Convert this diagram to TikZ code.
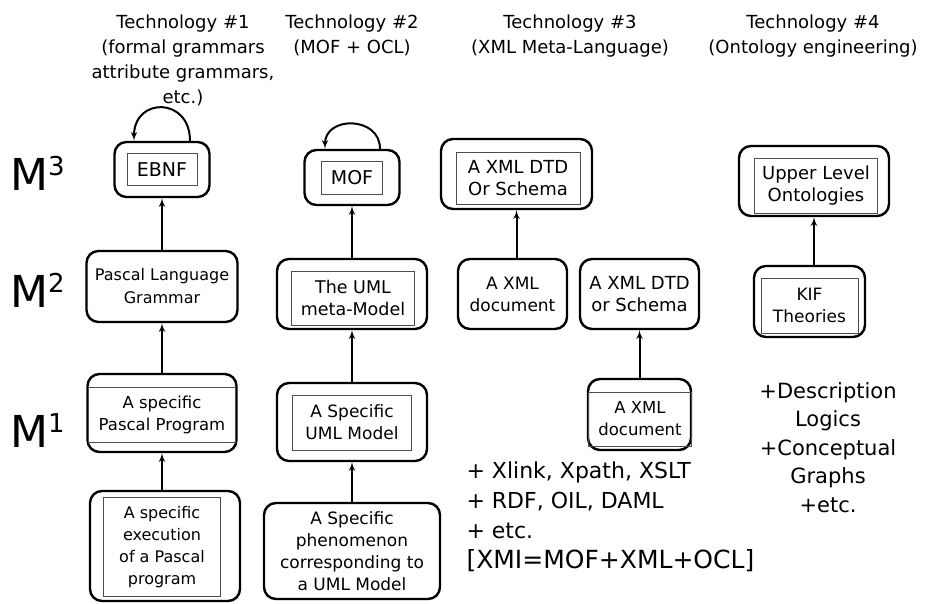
\documentclass[tikz,border=0pt]{standalone}
\usepackage{fontspec}
\setmainfont{DejaVu Sans}
\usetikzlibrary{shapes,arrows,calc,positioning}
\tikzstyle{outerbox} = [rectangle, draw, line width=2.4pt, rounded corners=12pt,
    align=center, inner sep=0pt, font=\fontsize{17}{22}\selectfont]
\tikzstyle{innerbox} = [rectangle, draw=black!70, line width=0.9pt,
    align=center, inner sep=0pt, font=\fontsize{17}{22}\selectfont]
\tikzstyle{line} = [draw, -latex', line width=2pt]
\tikzstyle{heading} = [align=center, anchor=north, font=\fontsize{18}{25}\selectfont]
\tikzstyle{level} = [anchor=base west, inner sep=0pt, font=\fontsize{44}{44}\selectfont]
\newcommand{\lvl}[1]{M\raisebox{15pt}{\fontsize{26}{26}\selectfont #1}}

\begin{document}
\begin{tikzpicture}[x=1pt, y=-1pt]
\useasboundingbox (0,0) rectangle (931,604);

%% Headings
\node [heading] (tech1) at (183,11) {Technology \#1\\(formal grammars\\attribute grammars,\\etc.)};
\node [heading] (tech2) at (352,11) {Technology \#2\\(MOF + OCL)};
\node [heading] (tech3) at (570,11) {Technology \#3\\(XML Meta-Language)};
\node [heading] (tech4) at (813,11) {Technology \#4\\(Ontology engineering)};

%% Levels
\node [level] (m3) at (10,190) {\lvl{3}};
\node [level] (m2) at (10,307) {\lvl{2}};
\node [level] (m1) at (10,447) {\lvl{1}};

%% Technology #1 boxes
\node [outerbox, minimum width=95, minimum height=55] (ebnfbox) at (162,169.5) {};
\node [innerbox, minimum width=70, minimum height=32, font=\fontsize{19}{22}\selectfont] (ebnf) at (ebnfbox) {EBNF};
\node [outerbox, minimum width=151, minimum height=71, font=\fontsize{16}{23}\selectfont] (pascalgrammar) at (162,286.5) {Pascal Language\\Grammar};
\node [outerbox, minimum width=149, minimum height=78] (pascalprogbox) at (162,413) {};
\node [innerbox, minimum width=147, minimum height=55, font=\fontsize{16.5}{22}\selectfont] (pascalprog) at (162,414.5) {A specific\\Pascal Program};
\node [outerbox, minimum width=150, minimum height=110] (executionbox) at (165,546) {};
\node [innerbox, minimum width=117, minimum height=99, font=\fontsize{16}{22}\selectfont] (execution) at (162,547) {A specific\\execution\\of a Pascal\\program};

%% Technology #2 boxes
\node [outerbox, minimum width=95, minimum height=55] (mofbox) at (352,177.5) {};
\node [innerbox, minimum width=61, minimum height=33, font=\fontsize{19}{22}\selectfont] (mof) at (mofbox) {MOF};
\node [outerbox, minimum width=150, minimum height=70] (umlmetabox) at (352,294) {};
\node [innerbox, minimum width=123, minimum height=54, font=\fontsize{17.5}{22}\selectfont] (umlmeta) at (353,298) {The UML\\meta-Model};
\node [outerbox, minimum width=150, minimum height=78] (umlmodelbox) at (352,422) {};
\node [innerbox, minimum width=119, minimum height=55] (umlmodel) at (352,422.5) {A Specific\\UML Model};
\node [outerbox, minimum width=176, minimum height=96] (phenomenon) at (352,551) {A Specific\\phenomenon\\corresponding to\\a UML Model};

%% Technology #3 boxes
\node [outerbox, minimum width=151, minimum height=70] (xmldtdbox) at (516.5,174) {};
\node [innerbox, minimum width=124, minimum height=52, font=\fontsize{18}{22}\selectfont] (xmldtd) at (518,178) {A XML DTD\\Or Schema};
\node [outerbox, minimum width=109, minimum height=70] (xmldoc) at (512.5,294) {A XML\\document};
\node [outerbox, minimum width=119, minimum height=70, font=\fontsize{18}{22}\selectfont] (xmldtdtwo) at (639.5,294) {A XML DTD\\or Schema};
\node [outerbox, minimum width=103, minimum height=71] (xmldoctwobox) at (639.5,414.5) {};
\node [innerbox, minimum width=103, minimum height=54, font=\fontsize{16.5}{22}\selectfont] (xmldoctwo) at (640,419) {A XML\\document};

%% Technology #4 boxes
\node [outerbox, minimum width=150, minimum height=70] (upperbox) at (814,181) {};
\node [innerbox, minimum width=123, minimum height=55, font=\fontsize{18}{22}\selectfont] (upper) at (816,185.5) {Upper Level\\Ontologies};
\node [outerbox, minimum width=111, minimum height=71] (kifbox) at (809.5,301.5) {};
\node [innerbox, minimum width=97, minimum height=55] (kif) at (809.5,305.5) {KIF\\Theories};

%% Extra texts
\node [anchor=north west, align=left, font=\fontsize{22}{30}\selectfont] (xmlextras) at (463,458) {+ Xlink, Xpath, XSLT\\+ RDF, OIL, DAML\\+ etc.\\{\fontsize{25}{31}\selectfont [XMI=MOF+XML+OCL]}};
\node [anchor=north, align=center, font=\fontsize{21}{28.5}\selectfont] (ontoextras) at (828,379) {+Description\\Logics\\+Conceptual\\Graphs\\+etc.};

%% Self loops
\path [line] ($(ebnfbox.north)+(28,0)$) .. controls ($(ebnfbox.north)+(28,-44)$) and ($(ebnfbox.north)+(-28,-44)$) .. ($(ebnfbox.north)+(-28,0)$);
\path [line] ($(mofbox.north)+(28,0)$) .. controls ($(mofbox.north)+(28,-33)$) and ($(mofbox.north)+(-27,-33)$) .. ($(mofbox.north)+(-27,0)$);

%% Draw lines between boxes
\path [line] (pascalgrammar) -- (ebnfbox);
\path [line] (pascalprogbox) -- (pascalgrammar);
\path [line] (executionbox.north -| pascalprogbox.south) -- (pascalprogbox.south);
\path [line] (umlmetabox) -- (mofbox);
\path [line] (umlmodelbox) -- (umlmetabox);
\path [line] (phenomenon) -- (umlmodelbox);
\path [line] (xmldoc.north -| xmldtdbox.south) -- (xmldtdbox.south);
\path [line] (xmldoctwobox) -- (xmldtdtwo);
\path [line] (kifbox.north -| upperbox.south) -- (upperbox.south);
\end{tikzpicture}
\end{document}
